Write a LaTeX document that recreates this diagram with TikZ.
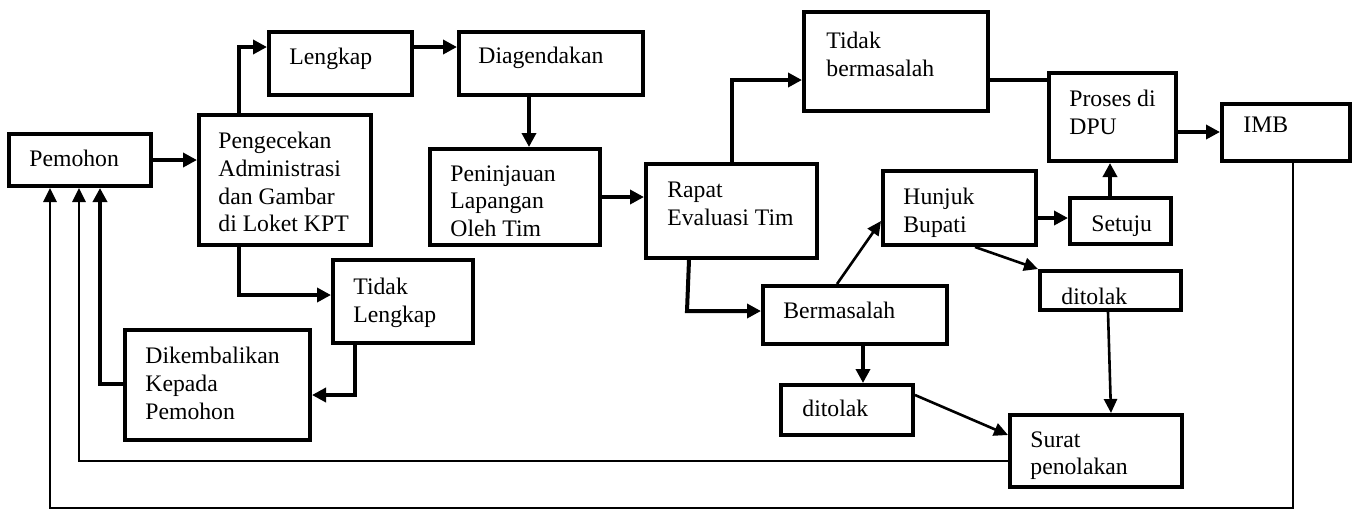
\documentclass[tikz,border=0pt]{standalone}
\usepackage{fontspec}
\setmainfont{Liberation Serif}
\usetikzlibrary{arrows.meta,fit}

\tikzset{
  box/.style={draw, line width=2pt, inner sep=0pt},
  txt/.style={anchor=north west, inner sep=0pt, align=left,
              font=\fontsize{11.85}{13.85}\selectfont},
  arr/.style={line width=2pt, -{Triangle[length=7pt,width=7pt]}},
  thinarr/.style={line width=1.3pt, -{Triangle[length=7pt,width=6.5pt]}},
  ln/.style={line width=2pt},
}

\begin{document}
\begin{tikzpicture}[x=0.5pt, y=-0.5pt]
\useasboundingbox (0,0) rectangle (1361,511);

% boxes
\node[box, fit={(9,134) (151,186)}]    (pem) {};
\node[box, fit={(199,115) (371,245)}]  (cek) {};
\node[box, fit={(269,32) (412,95)}]    (lkp) {};
\node[box, fit={(459,32) (643,95)}]    (agd) {};
\node[box, fit={(430,149) (600,245)}]  (tin) {};
\node[box, fit={(646,164) (817,258)}]  (rap) {};
\node[box, fit={(804,12) (988,111)}]   (tbm) {};
\node[box, fit={(1049,73) (1176,161)}] (dpu) {};
\node[box, fit={(1222,104) (1350,161)}] (imb) {};
\node[box, fit={(883,171) (1036,245)}] (hjk) {};
\node[box, fit={(1070,198) (1171,244)}] (stj) {};
\node[box, fit={(1040,271) (1181,310)}] (dtr) {};
\node[box, fit={(763,286) (947,344)}]  (bms) {};
\node[box, fit={(781,385) (913,435)}]  (dtl) {};
\node[box, fit={(1010,415) (1182,487)}] (srt) {};
\node[box, fit={(333,260) (473,343)}]  (tlk) {};
\node[box, fit={(125,330) (310,440)}]  (dkb) {};

% labels
\node[txt] (pemtx) at (29,150)   {Pemohon};
\node[txt] (cektx) at (218,132)  {Pengecekan\\Administrasi\\dan Gambar\\di Loket KPT};
\node[txt] (lkptx) at (289,48)   {Lengkap};
\node[txt] (agdtx) at (478,47)   {Diagendakan};
\node[txt] (tintx) at (450,165)  {Peninjauan\\Lapangan\\Oleh Tim};
\node[txt] (raptx) at (667,182)  {Rapat\\Evaluasi Tim};
\node[txt] (tbmtx) at (826,32)   {Tidak\\bermasalah};
\node[txt] (dputx) at (1069,90)  {Proses di\\DPU};
\node[txt] (imbtx) at (1243,117) {IMB};
\node[txt] (hjktx) at (903,188)  {Hunjuk\\Bupati};
\node[txt] (stjtx) at (1091,215) {Setuju};
\node[txt] (dtrtx) at (1061,288) {ditolak};
\node[txt] (bmstx) at (783,302)  {Bermasalah};
\node[txt] (dtltx) at (802,400)  {ditolak};
\node[txt] (srttx) at (1030,431) {Surat\\penolakan};
\node[txt] (tlktx) at (353,278)  {Tidak\\Lengkap};
\node[txt] (dkbtx) at (145,347)  {Dikembalikan\\Kepada\\Pemohon};

% main flow
\draw[arr] (pem.east) -- (pem.east -| cek.west);
\draw[arr] (239,0 |- cek.north) -- (239,47) -- (lkp.west |- 0,47);
\draw[arr] (lkp.east |- 0,47) -- (agd.west |- 0,47);
\draw[arr] (529,0 |- agd.south) -- (529,0 |- tin.north);
\draw[arr] (tin.east |- 0,197) -- (rap.west |- 0,197);
\draw[arr] (732,0 |- rap.north) -- (732,80) -- (tbm.west |- 0,80);
\draw[ln]  (tbm.east |- 0,80) -- (dpu.west |- 0,80);
\draw[arr] (dpu.east |- 0,132) -- (imb.west |- 0,132);

% incomplete documents
\draw[arr] (239,0 |- cek.south) -- (239,295) -- (tlk.west |- 0,295);
\draw[arr] (355,0 |- tlk.south) -- (355,395) -- (dkb.east |- 0,395);
\draw[arr] (dkb.west |- 0,384) -- (100,384) -- (100,0 |- pem.south);

% evaluation branches
\draw[arr] (689,0 |- rap.south) -- (687,311) -- (bms.west |- 0,311);
\draw[thinarr] (837,0 |- bms.north) -- (hjk.west |- 0,221);
\draw[arr] (hjk.east |- 0,218) -- (stj.west |- 0,218);
\draw[arr] (1110,0 |- stj.north) -- (1110,0 |- dpu.south);
\draw[thinarr] (975,0 |- hjk.south) -- (dtr.north west);
\draw[thinarr] (1108,0 |- dtr.south) -- (1111,0 |- srt.north);
\draw[arr] (863,0 |- bms.south) -- (863,0 |- dtl.north);
\draw[thinarr] (dtl.east |- 0,395) -- (srt.west |- 0,435);

% returns to the applicant
\draw[thinarr] (srt.west |- 0,461) -- (79,461) -- (79,0 |- pem.south);
\draw[thinarr] (1293,0 |- imb.south) -- (1293,508) -- (50,508) -- (50,0 |- pem.south);
\end{tikzpicture}
\end{document}
